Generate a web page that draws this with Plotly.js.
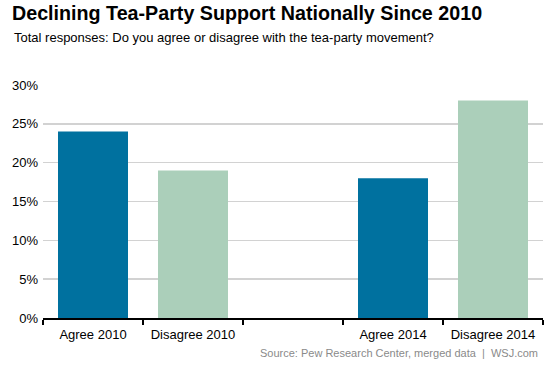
<!DOCTYPE html>
<html>
<head>
<meta charset="utf-8">
<script src="https://cdn.plot.ly/plotly-3.0.1.min.js"></script>
<style>html,body{margin:0;padding:0;background:#fff;}#chart{width:553px;height:369px;}</style>
</head>
<body>
<div id="chart"></div>
<script>
const categories = ["Agree 2010", "Disagree 2010", " ", "Agree 2014", "Disagree 2014"];
const values = [24, 19, null, 18, 28];
const barColors = ["#00719f", "#abcfba", "#ffffff", "#00719f", "#abcfba"];
const yTicks = [0, 5, 10, 15, 20, 25, 30];
const yTickLabels = ["0%", "5%", "10%", "15%", "20%", "25%", "30%"];

const trace = {
  type: "bar",
  x: categories,
  y: values,
  marker: {color: barColors, line: {width: 0}},
  hoverinfo: "none"
};

const layout = {
  width: 553, height: 369,
  margin: {l: 43, r: 10, t: 85, b: 51},
  paper_bgcolor: "#fff", plot_bgcolor: "#fff",
  bargap: 0.3,
  showlegend: false,
  font: {family: "Liberation Sans, Arial, sans-serif", color: "#000"},
  xaxis: {
    type: "category",
    categoryorder: "array",
    categoryarray: categories,
    range: [-0.5, 4.5],
    tickson: "boundaries",
    ticks: "outside", ticklen: 5, tickwidth: 1.5, tickcolor: "#000",
    showline: true, linecolor: "#000", linewidth: 2,
    showgrid: false, zeroline: false,
    tickfont: {size: 13, color: "#000"},
    ticklabelstandoff: 3,
    fixedrange: true
  },
  yaxis: {
    range: [0, 30],
    tickvals: yTicks, ticktext: yTickLabels,
    showgrid: true, gridcolor: "#d2d2d2", gridwidth: 1.5,
    zeroline: false, showline: false, ticks: "",
    tickfont: {size: 13, color: "#000"},
    ticklabelstandoff: 4,
    fixedrange: true
  },
  annotations: [
    {text: "<b>Declining Tea-Party Support Nationally Since 2010</b>", xref: "paper", yref: "paper",
     x: -43/500, y: 1 + (85-26)/233, xanchor: "left", yanchor: "bottom", showarrow: false,
     font: {size: 19.7, color: "#000", family: "Liberation Sans, Arial, sans-serif"}, xshift: 10},
    {text: "Total responses: Do you agree or disagree with the tea-party movement?", xref: "paper", yref: "paper",
     x: -43/500, y: 1 + (85-47)/233, xanchor: "left", yanchor: "bottom", showarrow: false,
     font: {size: 13, color: "#000", family: "Liberation Sans, Arial, sans-serif"}, xshift: 12},
    {text: "Source: Pew Research Center, merged data  |  WSJ.com", xref: "paper", yref: "paper",
     x: 1, y: -(361-318)/233, xanchor: "right", yanchor: "bottom", showarrow: false,
     font: {size: 11, color: "#8a8a8a", family: "Liberation Sans, Arial, sans-serif"}, xshift: -3}
  ]
};

Plotly.newPlot("chart", [trace], layout, {displayModeBar: false, staticPlot: true});
</script>
</body>
</html>
